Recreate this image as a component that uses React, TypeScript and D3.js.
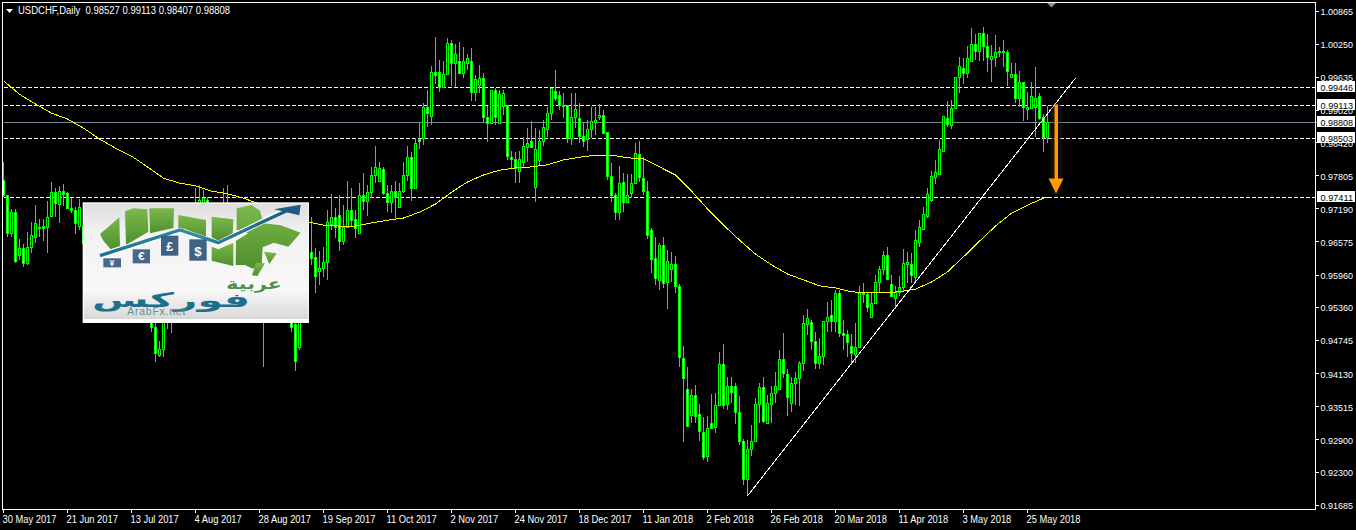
import React from "react";
import * as d3 from "d3";

const opens = [9773,9745,9674,9713,9633,9646,9619,9648,9667,9684,
9687,9685,9706,9751,9728,9752,9749,9721,9717,9687,
9687,9655,9630,9645,9610,9585,9600,9575,9550,9565,
9530,9545,9560,9540,9555,9530,9520,9530,9500,9448,
9459,9515,9525,9540,9565,9590,9630,9670,9690,9720,
9700,9736,9700,9680,9695,9675,9720,9700,9670,9640,
9650,9610,9590,9560,9570,9540,9530,9545,9555,9530,
9545,9535,9525,9505,9462,9540,9570,9638,9629,9604,
9610,9621,9691,9704,9707,9660,9685,9717,9700,9675,
9745,9734,9750,9782,9770,9793,9748,9732,9752,9722,
9752,9782,9815,9758,9848,9850,9908,9892,9973,9974,
9945,9969,10027,9991,9994,9972,9990,9994,9937,9949,
9962,9890,9878,9940,9878,9911,9912,9816,9811,9790,
9807,9834,9845,9760,9809,9846,9868,9897,9939,9931,
9912,9913,9851,9889,9887,9854,9848,9867,9881,9890,
9893,9861,9781,9744,9714,9769,9731,9748,9768,9821,
9776,9752,9680,9627,9587,9652,9584,9607,9617,9576,
9442,9384,9336,9373,9338,9304,9259,9321,9313,9355,
9431,9356,9390,9390,9342,9288,9217,9273,9288,9356,
9388,9322,9356,9376,9384,9440,9412,9358,9395,9404,
9432,9505,9508,9474,9432,9445,9510,9521,9510,9562,
9488,9486,9465,9450,9462,9561,9561,9518,9544,9583,
9607,9633,9580,9554,9565,9573,9617,9616,9593,9658,
9682,9706,9736,9779,9784,9827,9887,9874,9906,9964,
9980,9971,9993,10025,10013,10045,10022,9997,10002,10010,
10012,10010,9965,9969,9925,9954,9904,9906,9909,9928,
9890,9853];

const highs = [9806,9745,9719,9719,9663,9654,9676,9695,9726,9700,
9700,9734,9769,9758,9762,9765,9750,9739,9723,9737,
9700,9670,9660,9665,9625,9610,9620,9590,9580,9585,
9560,9570,9590,9565,9580,9560,9545,9535,9525,9474,
9530,9535,9550,9570,9600,9640,9680,9700,9758,9764,
9754,9741,9715,9700,9715,9758,9764,9715,9685,9660,
9665,9625,9600,9575,9585,9550,9550,9570,9570,9560,
9565,9550,9540,9510,9550,9580,9620,9704,9647,9640,
9648,9717,9747,9721,9745,9726,9770,9758,9717,9767,
9786,9763,9796,9836,9806,9796,9763,9763,9770,9767,
9807,9836,9825,9850,9879,9916,9940,9985,10038,9996,
9994,10036,10033,10025,10029,10019,10007,10018,9968,9986,
9971,9910,9940,9943,9940,9940,9912,9827,9825,9827,
9852,9869,9882,9869,9866,9884,9908,9943,9977,9938,
9935,9913,9934,9934,9915,9881,9884,9909,9909,9914,
9903,9861,9804,9748,9798,9785,9784,9784,9841,9845,
9816,9770,9683,9666,9655,9666,9643,9638,9632,9580,
9464,9425,9384,9392,9357,9333,9334,9375,9376,9453,
9468,9406,9406,9395,9371,9292,9290,9318,9367,9396,
9406,9373,9389,9415,9456,9488,9421,9407,9415,9437,
9521,9533,9513,9491,9479,9511,9546,9550,9568,9568,
9513,9494,9487,9507,9576,9581,9565,9562,9596,9612,
9641,9648,9596,9576,9594,9645,9638,9637,9680,9698,
9723,9757,9790,9810,9847,9892,9920,9921,9964,10001,
9999,10022,10055,10044,10045,10057,10044,10024,10042,10019,
10033,10014,9991,9990,9976,9954,9936,9955,9983,9934,
9895,9911];

const lows = [9741,9667,9667,9619,9624,9611,9615,9637,9656,9667,
9659,9637,9706,9704,9693,9724,9721,9711,9672,9680,
9640,9615,9610,9595,9570,9565,9560,9535,9530,9520,
9515,9530,9525,9525,9518,9515,9515,9491,9435,9443,
9443,9496,9489,9525,9550,9580,9615,9650,9680,9700,
9690,9680,9660,9665,9660,9660,9680,9650,9625,9615,
9600,9570,9545,9535,9525,9426,9520,9530,9520,9520,
9520,9516,9491,9418,9456,9530,9555,9615,9562,9578,
9593,9586,9680,9665,9640,9651,9683,9686,9665,9674,
9717,9706,9739,9767,9770,9745,9714,9711,9702,9720,
9748,9770,9734,9757,9830,9838,9872,9874,9951,9937,
9945,9969,9948,9946,9971,9963,9977,9920,9920,9934,
9878,9844,9876,9874,9876,9894,9810,9795,9768,9768,
9795,9807,9833,9732,9798,9835,9853,9884,9920,9903,
9887,9841,9838,9869,9841,9834,9827,9850,9856,9884,
9858,9773,9732,9698,9698,9714,9731,9739,9767,9769,
9745,9663,9599,9578,9568,9572,9533,9584,9562,9425,
9285,9316,9321,9321,9287,9253,9249,9311,9302,9352,
9347,9345,9358,9319,9280,9206,9186,9259,9288,9321,
9322,9321,9321,9358,9384,9404,9334,9342,9355,9353,
9418,9485,9456,9421,9421,9429,9490,9490,9491,9481,
9456,9443,9429,9432,9462,9544,9528,9518,9542,9563,
9596,9587,9558,9533,9558,9564,9581,9581,9581,9649,
9682,9703,9731,9765,9784,9827,9871,9867,9906,9935,
9952,9962,9993,9996,9993,9993,9974,9955,9983,10002,
9983,9948,9965,9915,9909,9883,9884,9904,9852,9884,
9824,9841];

const closes = [9745,9674,9713,9622,9646,9619,9648,9671,9693,9685,
9684,9704,9751,9730,9752,9747,9721,9717,9693,9723,
9655,9630,9645,9610,9585,9600,9575,9550,9565,9530,
9545,9560,9540,9555,9530,9520,9530,9500,9452,9459,
9515,9525,9540,9565,9590,9630,9670,9690,9720,9735,
9739,9700,9680,9695,9675,9720,9700,9670,9640,9650,
9610,9590,9560,9570,9540,9530,9545,9555,9530,9545,
9535,9525,9500,9437,9540,9570,9610,9628,9595,9610,
9621,9694,9704,9685,9660,9685,9717,9698,9683,9745,
9734,9750,9782,9796,9795,9748,9731,9753,9742,9752,
9782,9815,9758,9841,9845,9908,9897,9973,9968,9945,
9969,10027,9991,10006,9972,9993,9999,9937,9960,9962,
9890,9878,9940,9889,9933,9934,9818,9811,9795,9811,
9836,9842,9834,9830,9846,9871,9897,9943,9926,9913,
9913,9851,9889,9904,9855,9846,9867,9883,9884,9894,
9860,9781,9744,9714,9768,9731,9744,9767,9822,9779,
9753,9671,9626,9590,9652,9582,9623,9617,9575,9443,
9404,9316,9373,9335,9307,9257,9311,9311,9355,9431,
9355,9390,9379,9342,9288,9217,9272,9288,9356,9388,
9324,9358,9376,9389,9440,9414,9370,9395,9404,9432,
9507,9516,9474,9432,9445,9510,9518,9510,9562,9488,
9485,9471,9451,9463,9562,9562,9537,9544,9583,9607,
9633,9588,9558,9565,9573,9618,9620,9596,9661,9685,
9709,9747,9780,9787,9830,9892,9877,9906,9964,9985,
9971,9999,10025,10013,10045,10022,10002,10003,10011,10012,
10010,9976,9969,9925,9954,9909,9909,9929,9926,9887,
9853,9881];

// moving average, read every fourth bar, plus the last bar
const maBars = [0,4,8,12,16,20,24,28,32,36,40,44,48,52,56,60,64,68,72,76,80,84,88,92,96,100,104,108,112,116,120,124,128,132,136,140,144,148,152,156,160,164,168,172,176,180,184,188,192,196,200,204,208,212,216,220,224,228,232,236,240,244,248,252,256,260,261];
const maValues = [9957,9932,9914,9897,9886,9869,9849,9832,9817,9797,9776,9767,9762,9752,9747,9739,9728,9717,9706,9695,9689,9687,9687,9693,9698,9702,9713,9728,9750,9769,9782,9791,9795,9797,9801,9810,9815,9819,9819,9814,9812,9797,9782,9752,9719,9689,9661,9635,9615,9598,9587,9576,9572,9565,9563,9563,9565,9570,9583,9602,9630,9659,9687,9711,9726,9739,9741];

const trendBars = [186, 268];
const trendPrices = [0.91856, 0.9962];

const priceTicks = ["1.00865","1.00250","0.99635","0.99020","0.98420","0.97805","0.97190","0.96575","0.95960","0.95360","0.94745","0.94130","0.93515","0.92900","0.92300","0.91685"];
const dateTicks = ["30 May 2017","21 Jun 2017","13 Jul 2017","4 Aug 2017","28 Aug 2017","19 Sep 2017","11 Oct 2017","2 Nov 2017","24 Nov 2017","18 Dec 2017","11 Jan 2018","2 Feb 2018","26 Feb 2018","20 Mar 2018","11 Apr 2018","3 May 2018","25 May 2018"];
const dashedLevels = ["0.99446","0.99113","0.98503","0.97411"];
const lastClose = "0.98808";
const titleText = "USDCHF,Daily  0.98527 0.99113 0.98407 0.98808";
const arrowBar = 263;
const arrowFrom = 0.99113;
const arrowTo = 0.97475;

const W = 1356, H = 530;
const LEFT = 2.5, TOP = 2.5, RIGHT = 1315.5, BOTTOM = 509.5;
const FONT = "'Liberation Sans', Arial, sans-serif";

const x = d3.scaleLinear().domain([0, 16]).range([3.5, 67.5]);
const y = d3.scaleLinear().domain([0.99446, 0.97411]).range([87.5, 197]);
const py = (pips: number) => y(pips / 10000);
const row = (v: number) => Math.round(y(v) - 0.3);

function Logo() {
  const ink = "#1f6f8c";
  return (
    <g transform="translate(70,190) scale(0.33333)">
      <defs>
        <linearGradient id="bgGrad" x1="0" y1="0" x2="0" y2="1">
          <stop offset="0" stopColor="#dedede" />
          <stop offset="0.25" stopColor="#f2f2f2" />
          <stop offset="0.75" stopColor="#f8f8f8" />
          <stop offset="1" stopColor="#d8d8d8" />
        </linearGradient>
        <linearGradient id="greenGrad" x1="0" y1="0" x2="0" y2="1">
          <stop offset="0" stopColor="#7cb84a" />
          <stop offset="1" stopColor="#4f8f2f" />
        </linearGradient>
        <linearGradient id="arrowGrad" x1="0" y1="0" x2="1" y2="0">
          <stop offset="0" stopColor="#1f6f8c" />
          <stop offset="0.5" stopColor="#2f8aa3" />
          <stop offset="1" stopColor="#1d5c80" />
        </linearGradient>
        <filter id="soft"><feGaussianBlur stdDeviation="1.2" /></filter>
        <clipPath id="logoClip"><rect x="42" y="41" width="673" height="346" /></clipPath>
      </defs>
      <rect x="38" y="37" width="679" height="362" fill="#ffffff" />
      <rect x="42" y="41" width="673" height="346" fill="url(#bgGrad)" />
      <g filter="url(#soft)" fill="url(#greenGrad)">
        <path d="M90,132 L118,108 L148,82 L150,168 L122,178 L100,152 Z" />
        <path d="M165,64 L190,55 L232,58 L235,125 L168,165 Z" />
        <path d="M238,55 L312,55 L310,114 L240,130 Z" />
        <path d="M325,75 L408,90 L408,148 L345,116 L325,122 Z" />
        <path d="M425,80 L490,88 L488,138 L445,152 L425,142 Z" />
        <path d="M500,55 L545,45 L570,62 L580,100 L632,106 L692,128 L655,170 L612,158 L578,172 L575,222 L548,236 L525,225 L497,225 L498,152 L535,130 L500,120 Z" />
        <path d="M425,170 L445,178 L490,158 L490,228 L425,212 Z" />
        <path d="M582,185 L620,190 L598,222 Z" />
        <path d="M558,218 L585,220 L562,258 L546,256 Z" />
      </g>
      <path d="M90,197 L330,122 L445,160 L640,64" fill="none" stroke="#ffffff" strokeWidth="16" filter="url(#soft)" />
      <path d="M90,197 L330,120 L445,158 L650,62" fill="none" stroke="url(#arrowGrad)" strokeWidth="10" />
      <path d="M612,58 L692,44 L688,76 L662,70 Z" fill="#1d5c80" />
      <g fontFamily={FONT} fontWeight="700" fill="#ffffff" textAnchor="middle">
        <rect x="100" y="205" width="53" height="27" fill="#46688c" />
        <text x="126" y="228" fontSize="26">¥</text>
        <rect x="188" y="178" width="52" height="42" fill="#46688c" />
        <text x="214" y="210" fontSize="34">€</text>
        <rect x="273" y="137" width="52" height="60" fill="#3e6284" />
        <text x="299" y="183" fontSize="38">£</text>
        <rect x="358" y="148" width="52" height="64" fill="#3e6284" />
        <text x="384" y="198" fontSize="40">$</text>
      </g>
      <g clipPath="url(#logoClip)">
        <text transform="translate(635,298) scale(1.4,1)" fontFamily="'DejaVu Sans'" fontWeight="700" fontSize="44" fill="#4f8f4a" textAnchor="start" direction="rtl">عربية</text>
        <text transform="translate(540,350) scale(2.05,1)" fontFamily="'DejaVu Sans'" fontWeight="700" fontSize="60" fill={ink} textAnchor="start" direction="rtl">فوركس</text>
        <text x="260" y="374" fontFamily={FONT} fontSize="31" letterSpacing="2.5" fill="#5a9090" textAnchor="middle">ArabFx.net</text>
      </g>
    </g>
  );
}

export default function App() {
  const line = d3
    .line<number>()
    .x((_, i) => x(maBars[i]))
    .y((d) => py(d));
  const cross = d3.line<number>().x((_, i) => x(trendBars[i])).y((d) => y(d));
  const ax = x(arrowBar);
  const aTop = y(arrowFrom) - 1;
  const aBottom = y(arrowTo);
  return (
    <svg
      width={W}
      height={H}
      viewBox={`0 0 ${W} ${H}`}
      style={{ position: "fixed", left: 0, top: 0, display: "block", background: "#000" }}
    >
      <rect width={W} height={H} fill="#000" />
      {/* levels */}
      <g shapeRendering="crispEdges">
        {dashedLevels.map((v) => (
          <line key={v} x1={LEFT + 1} x2={RIGHT} y1={row(+v) + 0.5} y2={row(+v) + 0.5} stroke="#fff" strokeDasharray="4 2" />
        ))}
        <line x1={LEFT + 1} x2={RIGHT + 3} y1={row(+lastClose) + 0.5} y2={row(+lastClose) + 0.5} stroke="#778899" />
      </g>
      {/* candles */}
      <g shapeRendering="crispEdges">
        {opens.map((o, i) => {
          const c = closes[i];
          const cx = Math.floor(x(i));
          const top = Math.round(py(Math.max(o, c)));
          const bottom = Math.round(py(Math.min(o, c)));
          const hy = Math.round(py(highs[i]));
          const ly = Math.round(py(lows[i]));
          const h = Math.max(bottom - top, 1);
          return (
            <g key={i}>
              <rect x={cx} y={hy} width={1} height={Math.max(ly - hy, 1)} fill="#00ff00" />
              <rect x={cx - 1} y={top} width={3} height={h + 1} fill="#00ff00" />
              {h > 1 && <rect x={cx} y={top + 1} width={1} height={h - 1} fill={c >= o ? "#000" : "#fff"} />}
            </g>
          );
        })}
      </g>
      {/* moving average */}
      <path d={line(maValues) || ""} fill="none" stroke="#ffff00" strokeWidth={1} shapeRendering="crispEdges" />
      {/* trend line */}
      <path d={cross(trendPrices) || ""} fill="none" stroke="#ffffff" strokeWidth={1} shapeRendering="crispEdges" />
      {/* arrow */}
      <g>
        <rect x={ax - 5} y={aTop} width={12} height={aBottom - aTop} fill="#3a2a10" opacity={0.3} />
        <rect x={ax - 1} y={aTop} width={3.5} height={aBottom - aTop - 13} fill="#ff9900" />
        <path d={`M${ax - 7},${aBottom - 15} L${ax + 8},${aBottom - 15} L${ax + 0.5},${aBottom} Z`} fill="#ff9900" />
      </g>
      {/* frame */}
      <path d={`M${LEFT},${BOTTOM} V${TOP} H${RIGHT} V${BOTTOM} Z`} fill="none" stroke="#fff" shapeRendering="crispEdges" />
      <path d="M6,9 L13,9 L9.5,13 Z" fill="#fff" />
      <path d="M1047,3 L1056,3 L1051.5,7.5 Z" fill="#8090a0" />
      <text transform="translate(18,14) scale(0.865,1)" fontFamily={FONT} fontSize={11} fill="#fff" xmlSpace="preserve">{titleText}</text>
      {/* y axis */}
      {priceTicks.map((t) => (
        <g key={t}>
          <line x1={RIGHT} x2={RIGHT + 3} y1={Math.floor(y(+t)) + 0.5} y2={Math.floor(y(+t)) + 0.5} stroke="#fff" shapeRendering="crispEdges" />
          <text x={1320.5} y={y(+t) + 4} fontFamily={FONT} fontSize={9.8} fill="#fff" textLength={32.5} lengthAdjust="spacingAndGlyphs">{t}</text>
        </g>
      ))}
      {[...dashedLevels, lastClose].map((t) => (
        <g key={t}>
          <rect x={1317} y={row(+t) - 6} width={38} height={11} fill="#fff" shapeRendering="crispEdges" />
          <text x={1320.5} y={row(+t) + 3.5} fontFamily={FONT} fontSize={9.8} fill="#000" textLength={32.5} lengthAdjust="spacingAndGlyphs">{t}</text>
        </g>
      ))}
      {/* x axis */}
      {dateTicks.map((t, k) => (
        <g key={t}>
          <line x1={x(k * 16)} x2={x(k * 16)} y1={BOTTOM} y2={BOTTOM + 3} stroke="#fff" shapeRendering="crispEdges" />
          <text transform={`translate(${x(k * 16) - 1},522.5) scale(0.85,1)`} fontFamily={FONT} fontSize={11} fill="#fff">{t}</text>
        </g>
      ))}
      <Logo />
    </svg>
  );
}
